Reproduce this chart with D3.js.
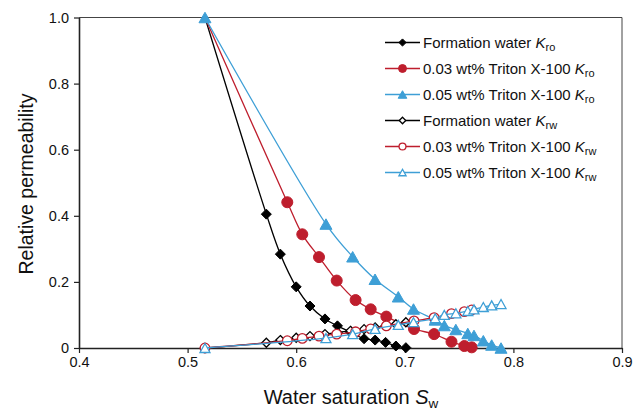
<!DOCTYPE html>
<html><head><meta charset="utf-8">
<script src="https://cdn.jsdelivr.net/npm/d3@7"></script>
<style>body{margin:0;background:#fff}svg{font-family:"Liberation Sans",Arial,sans-serif}</style>
</head><body><svg id="c" width="642" height="412"></svg>
<script>
// Data
const fwKroX = [0.516,0.5725,0.5854,0.600,0.6127,0.6265,0.638,0.650,0.6625,0.6727,0.6823,0.6918,0.701];
const fwKro  = [1.0,0.405,0.284,0.185,0.127,0.088,0.067,0.048,0.028,0.024,0.017,0.006,0.001];
const fwKrw  = [0.0,0.016,0.024,0.031,0.036,0.042,0.047,0.052,0.057,0.062,0.067,0.072,0.078];
const t03X   = [0.516,0.5918,0.6056,0.621,0.6373,0.6547,0.6686,0.683,0.7085,0.727,0.743,0.7548,0.7616];
const t03Kro = [1.0,0.441,0.344,0.275,0.204,0.145,0.117,0.095,0.0575,0.042,0.019,0.006,0.002];
const t03Krw = [0.0,0.022,0.029,0.036,0.042,0.049,0.058,0.067,0.082,0.092,0.104,0.110,0.115];
const t05X   = [0.516,0.6274,0.652,0.6726,0.694,0.708,0.728,0.7364,0.747,0.758,0.7637,0.7723,0.780,0.7886];
const t05Kro = [1.0,0.375,0.276,0.208,0.155,0.118,0.085,0.068,0.056,0.044,0.038,0.022,0.009,0.0];
const t05Krw = [0.0,0.030,0.042,0.058,0.070,0.078,0.090,0.100,0.105,0.112,0.117,0.124,0.129,0.133];
const xTicks = [0.4,0.5,0.6,0.7,0.8,0.9];
const yTicks = [0,0.2,0.4,0.6,0.8,1.0];
const yTickLabels = ["0","0.2","0.4","0.6","0.8","1.0"];
const legendNames = ["Formation water ","0.03 wt% Triton X-100 ","0.05 wt% Triton X-100 ","Formation water ","0.03 wt% Triton X-100 ","0.05 wt% Triton X-100 "];
const legendSubs = ["ro","ro","ro","rw","rw","rw"];

const BLACK="#000000", RED="#be1e2d", BLUE="#3e9fd6";
const series = [
  {x:fwKroX, y:fwKro, color:BLACK, shape:"diamond", filled:true, skipFirst:true},
  {x:t03X, y:t03Kro, color:RED, shape:"circle", filled:true, skipFirst:true},
  {x:t05X, y:t05Kro, color:BLUE, shape:"triangle", filled:true},
  {x:fwKroX, y:fwKrw, color:BLACK, shape:"diamond", filled:false},
  {x:t03X, y:t03Krw, color:RED, shape:"circle", filled:false},
  {x:t05X, y:t05Krw, color:BLUE, shape:"triangle", filled:false},
];

const svg = d3.select("#c");
const L=79, R=622, T=17.5, B=348;
const x = d3.scaleLinear().domain([0.4,0.9]).range([L,R]);
const y = d3.scaleLinear().domain([0,1]).range([B,T]);

// frame top/right
svg.append("line").attr("x1",L).attr("x2",R).attr("y1",T).attr("y2",T).attr("stroke","#444").attr("stroke-width",1);
svg.append("line").attr("x1",R).attr("x2",R).attr("y1",T).attr("y2",B).attr("stroke","#444").attr("stroke-width",1);

// axes
const xAxis = svg.append("g").attr("transform",`translate(0,${B})`)
  .call(d3.axisBottom(x).tickValues(xTicks).tickFormat(d3.format(".1f")).tickSize(5).tickSizeOuter(0).tickPadding(4));
const yAxis = svg.append("g").attr("transform",`translate(${L},0)`)
  .call(d3.axisLeft(y).tickValues(yTicks).tickFormat((d,i)=>yTickLabels[i]).tickSize(5).tickSizeOuter(0).tickPadding(5));
[xAxis,yAxis].forEach(g=>{
  g.select(".domain").attr("stroke","#222").attr("stroke-width",1.6);
  g.selectAll(".tick line").attr("stroke","#222").attr("stroke-width",1.2);
  g.selectAll(".tick text").attr("font-size",14.5).attr("fill","#111").attr("font-family","Liberation Sans, Arial, sans-serif");
});

// markers
function marker(g, shape, filled, color, cx, cy, k){
  k = k||1;
  let s;
  const fill = filled ? color : "#fff";
  const sw = filled ? 1 : 1.3;
  if(shape==="diamond"){
    const r = (filled?5:4.5)*k;
    s = g.append("path").attr("d",`M${cx},${cy-r}L${cx+r},${cy}L${cx},${cy+r}L${cx-r},${cy}Z`);
  } else if(shape==="circle"){
    s = g.append("circle").attr("cx",cx).attr("cy",cy).attr("r",(filled?5.5:4.8)*k);
  } else {
    const h = (filled?10.5:9)*k, w = (filled?12:10)*k;
    s = g.append("path").attr("d",`M${cx},${cy-h*0.5}L${cx+w/2},${cy+h*0.5}L${cx-w/2},${cy+h*0.5}Z`);
  }
  s.attr("fill",fill).attr("stroke",color).attr("stroke-width",sw);
}

const line = d3.line().x(d=>x(d[0])).y(d=>y(d[1])).curve(d3.curveCatmullRom.alpha(0.5));
const plot = svg.append("g");
series.forEach(s=>{
  const pts = s.x.map((v,i)=>[v,s.y[i]]);
  const g = plot.append("g");
  g.append("path").attr("d",line(pts)).attr("fill","none").attr("stroke",s.color).attr("stroke-width",1.3);
  pts.forEach((p,i)=>{ if(!(s.skipFirst && i===0)) marker(g,s.shape,s.filled,s.color,x(p[0]),y(p[1])); });
});

// legend
const lg = svg.append("g");
series.forEach((s,i)=>{
  const yy = 42.5 + i*26;
  lg.append("line").attr("x1",385).attr("x2",420).attr("y1",yy).attr("y2",yy).attr("stroke",s.color).attr("stroke-width",1.3);
  marker(lg,s.shape,s.filled,s.color,402.5,yy,0.72);
  const t = lg.append("text").attr("x",423).attr("y",yy+5.5).attr("font-size",15).attr("fill","#111");
  t.append("tspan").text(legendNames[i]);
  t.append("tspan").attr("font-style","italic").text("K");
  t.append("tspan").attr("font-size",11).attr("dy",3).text(legendSubs[i]);
});

// axis titles
const xt = svg.append("text").attr("x",351).attr("y",404).attr("text-anchor","middle").attr("font-size",20).attr("fill","#111");
xt.append("tspan").text("Water saturation ");
xt.append("tspan").attr("font-style","italic").text("S");
xt.append("tspan").attr("font-size",13.5).attr("dy",4).text("w");
svg.append("text").attr("transform","translate(33,184) rotate(-90)").attr("text-anchor","middle")
  .attr("font-size",19.5).attr("fill","#111").text("Relative permeability");
</script></body></html>
